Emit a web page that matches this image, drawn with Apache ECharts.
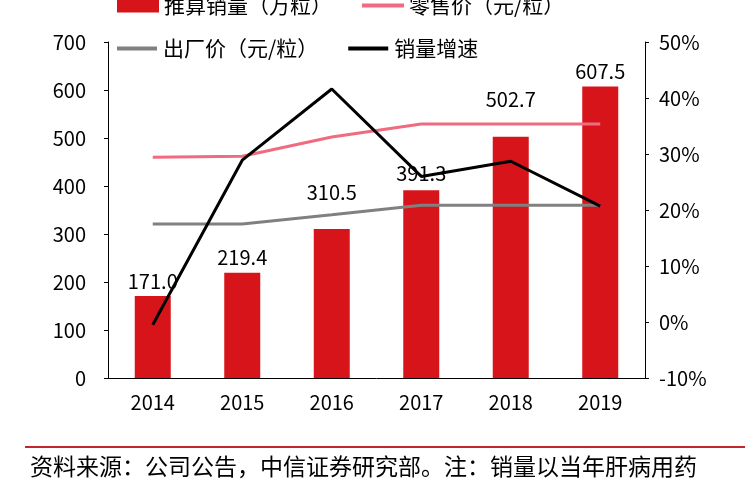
<!DOCTYPE html><html><head><meta charset="utf-8"><script src="https://cdn.jsdelivr.net/npm/echarts@6/dist/echarts.min.js"></script></head><body style="margin:0;background:#fff"><div id="c" style="width:750px;height:500px"></div><script>
const years=['2014','2015','2016','2017','2018','2019'];
const sales=[171.0,219.4,310.5,391.3,502.7,607.5];
const retail=[460,462,502,529,529,529];
const factory=[321,321,340,360,360,360];
const growth=[-0.5,28.9,41.6,26.0,28.7,20.7];
const F='"Noto Sans CJK SC","Noto Sans",sans-serif';
const labelOffsets=[0,0,-22,-2,-22,0];
const lineIcon='path://M0,0L20,0L20,2L0,2Z';
const lt={fontSize:21,color:'#000',fontFamily:F};
const chart=echarts.init(document.getElementById('c'));
chart.setOption({
 animation:false,
 textStyle:{fontFamily:F},
 grid:{left:108,right:105,top:42,bottom:122},
 legend:[
  {data:[{name:'推算销量（万粒）',icon:'rect'},{name:'零售价（元/粒）',icon:lineIcon}],left:112,top:-10,itemWidth:42,itemHeight:14,itemGap:30,textStyle:lt},
  {data:[{name:'出厂价（元/粒）',icon:lineIcon},{name:'销量增速',icon:lineIcon}],left:112,top:33,itemWidth:42,itemHeight:4,itemGap:30,textStyle:lt}
 ],
 xAxis:{type:'category',data:years,axisLine:{lineStyle:{color:'#000'}},axisTick:{show:false},axisLabel:{fontSize:20,color:'#000',margin:14}},
 yAxis:[
  {type:'value',min:0,max:700,interval:100,axisLine:{show:true,lineStyle:{color:'#000'}},axisTick:{show:true,length:4},splitLine:{show:false},axisLabel:{fontSize:20,color:'#000',margin:22}},
  {type:'value',min:-10,max:50,interval:10,axisLine:{show:true,lineStyle:{color:'#000'}},axisTick:{show:true,length:4},splitLine:{show:false},axisLabel:{fontSize:20,color:'#000',margin:14,formatter:'{value}%'}}
 ],
 series:[
  {name:'推算销量（万粒）',type:'bar',data:sales.map((v,i)=>({value:v,label:{offset:[0,labelOffsets[i]]}})),barWidth:36,itemStyle:{color:'#d7141a'},label:{show:true,position:'top',fontSize:20,color:'#000',formatter:p=>p.value.toFixed(1)},z:1},
  {name:'零售价（元/粒）',type:'line',data:retail,symbol:'none',lineStyle:{color:'#f06b80',width:3},itemStyle:{color:'#f06b80'},z:2},
  {name:'出厂价（元/粒）',type:'line',data:factory,symbol:'none',lineStyle:{color:'#808080',width:3},itemStyle:{color:'#808080'},z:2},
  {name:'销量增速',type:'line',yAxisIndex:1,data:growth,symbol:'none',lineStyle:{color:'#000',width:3},itemStyle:{color:'#000'},z:3}
 ],
 graphic:[
  {type:'line',shape:{x1:25,y1:447,x2:745,y2:447},style:{stroke:'#c0282d',lineWidth:2}},
  {type:'text',left:30,top:455,style:{text:'资料来源：公司公告，中信证券研究部。注：销量以当年肝病用药',fontSize:23,fill:'#000',fontFamily:F}}
 ]
});
</script></body></html>
